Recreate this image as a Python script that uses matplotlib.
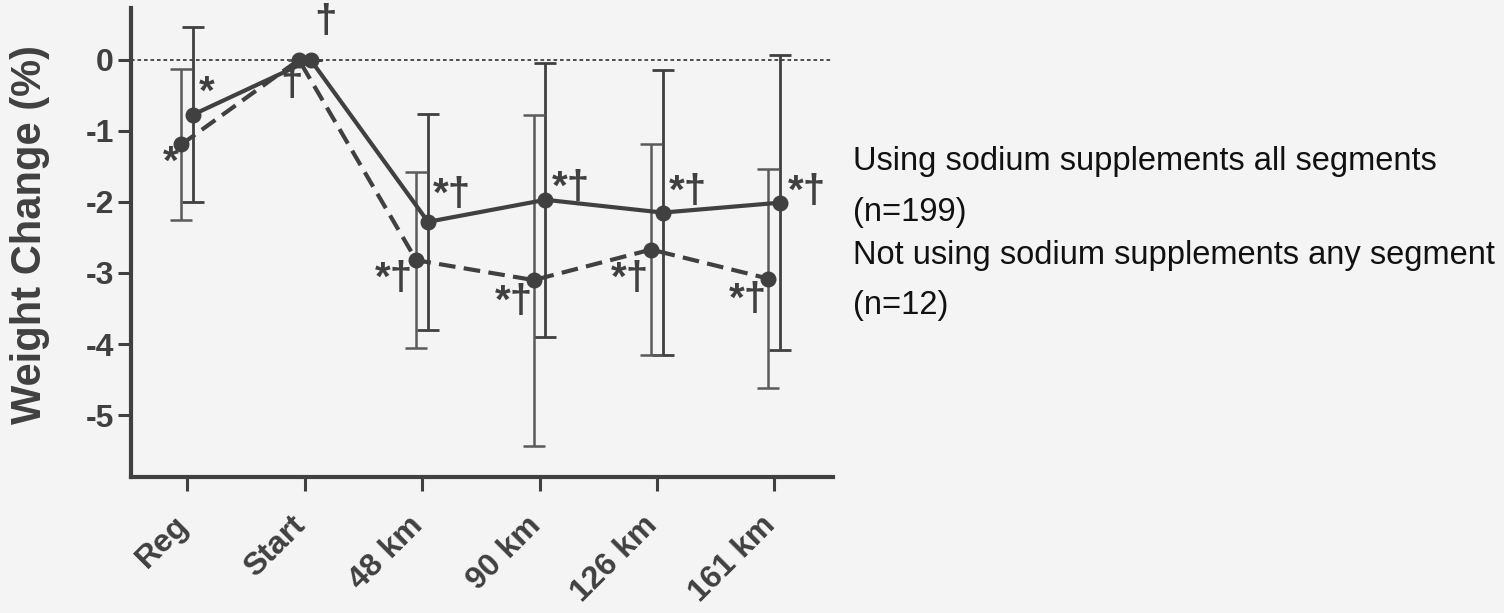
import numpy as np
import matplotlib.pyplot as plt
import matplotlib.transforms as mtransforms

plt.rcParams['font.family'] = ['Liberation Sans', 'DejaVu Sans']

# Weight change per checkpoint, mean and SD
stages = ['Reg', 'Start', '48 km', '90 km', '126 km', '161 km']
sodium_mean = [-0.77, 0.0, -2.28, -1.97, -2.15, -2.01]
sodium_sd = [1.23, 0.0, 1.52, 1.93, 2.0, 2.08]
no_sodium_mean = [-1.19, 0.0, -2.82, -3.10, -2.67, -3.08]
no_sodium_sd = [1.06, 0.0, 1.24, 2.33, 1.48, 1.54]
sodium_marks = ['*', '†', '*†', '*†', '*†', '*†']
no_sodium_marks = ['*', '†', '*†', '*†', '*†', '*†']
sodium_label = 'Using sodium supplements all segments\n(n=199)'
no_sodium_label = 'Not using sodium supplements any segment\n(n=12)'

ink = '#404040'
bg = '#f4f4f4'

fig = plt.figure(figsize=(15.04, 6.13), dpi=100, facecolor=bg)
ax = fig.add_axes([0.0871, 0.222, 0.4668, 0.765], facecolor=bg)

x = np.arange(len(stages))
shift = 0.05

ax.axhline(0, color=ink, lw=1.3, ls=(0, (2, 1.6)), zorder=1)

ax.errorbar(x + shift, sodium_mean, yerr=sodium_sd, fmt='none', ecolor=ink,
            elinewidth=2, capsize=8, capthick=2, zorder=2)
ax.errorbar(x - shift, no_sodium_mean, yerr=no_sodium_sd, fmt='none', ecolor='#5a5a5a',
            elinewidth=1.8, capsize=8, capthick=1.8, zorder=2)

ax.plot(x + shift, sodium_mean, color=ink, lw=3, marker='o', ms=10.5,
        label=sodium_label, zorder=3)
ax.plot(x - shift, no_sodium_mean, color=ink, lw=3, ls=(0, (4, 2)),
        marker='o', ms=10.5, label=no_sodium_label, zorder=3)

# significance marks, offsets in pixels
sodium_off = [(14, 22), (15, 38), (24, 27), (26, 12), (25, 21), (27, 11)]
no_sodium_off = [(-11, -18), (-7, -25), (-22, -19), (-20, -22), (-21, -29), (-21, -21)]
for i in range(len(stages)):
    dx, dy = sodium_off[i]
    ax.annotate(sodium_marks[i], (x[i] + shift, sodium_mean[i]),
                xytext=(dx * 0.72, dy * 0.72), textcoords='offset points',
                ha='center', va='center', fontsize=29, fontweight='bold', color=ink)
    dx, dy = no_sodium_off[i]
    ax.annotate(no_sodium_marks[i], (x[i] - shift, no_sodium_mean[i]),
                xytext=(dx * 0.72, dy * 0.72), textcoords='offset points',
                ha='center', va='center', fontsize=29, fontweight='bold', color=ink)

ax.set_xlim(-0.48, 5.5)
ax.set_ylim(-5.87, 0.73)
ax.set_yticks([0, -1, -2, -3, -4, -5])
ax.set_yticklabels(['0', '-1', '-2', '-3', '-4', '-5'], fontsize=23, fontweight='bold', color=ink)
ax.set_xticks(x)
ax.set_xticklabels(stages, rotation=45, ha='right', fontsize=23, fontweight='bold', color=ink)
ax.set_ylabel('Weight Change (%)', fontsize=30, fontweight='bold', color=ink)
ax.yaxis.set_label_coords(-0.116, 0.516)

for side in ['top', 'right']:
    ax.spines[side].set_visible(False)
for side in ['left', 'bottom']:
    ax.spines[side].set_color(ink)
    ax.spines[side].set_linewidth(3)
ax.tick_params(axis='y', length=9.5, width=2.2, color=ink, pad=3)
ax.tick_params(axis='x', length=10, width=2.2, color=ink, pad=14)

# shift rotated stage labels a little to the right
nudge = mtransforms.ScaledTranslation(7 / 100, 0, fig.dpi_scale_trans)
for lbl in ax.xaxis.get_majorticklabels():
    lbl.set_transform(lbl.get_transform() + nudge)

fig.text(0.567, 0.695, sodium_label, fontsize=23.5, color='#111111', va='center', linespacing=1.8)
fig.text(0.567, 0.543, no_sodium_label, fontsize=23.5, color='#111111', va='center', linespacing=1.8)

fig.savefig('out.png', dpi=100, facecolor=bg)
